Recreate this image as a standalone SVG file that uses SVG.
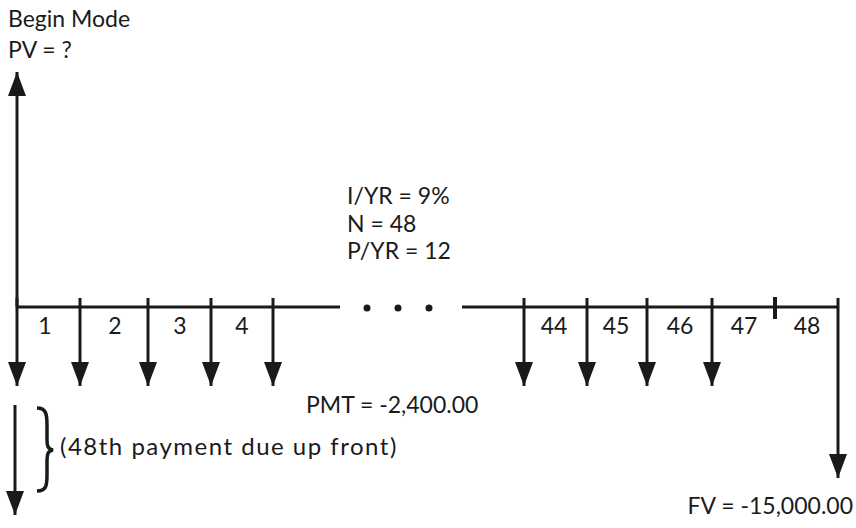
<svg xmlns="http://www.w3.org/2000/svg" width="856" height="528" viewBox="0 0 856 528">
<defs>
<marker id="ah" viewBox="0 0 24 18" refX="24" refY="9" markerWidth="24" markerHeight="18" markerUnits="userSpaceOnUse" orient="auto">
<path d="M0,0 L24,9 L0,18 Z" fill="#1a1a1a"/>
</marker>
</defs>
<style>
.t{font-family:Lato,"Open Sans",sans-serif;font-size:23px;fill:#1a1a1a}
.n{font-family:Lato,"Open Sans",sans-serif;font-size:23px;fill:#1a1a1a}
.b{font-family:Lato,"Open Sans",sans-serif;font-size:24px;fill:#1a1a1a;letter-spacing:1.5px}
.ln{stroke:#1a1a1a;stroke-width:3;fill:none}
.ar{stroke:#1a1a1a;stroke-width:3;fill:none}
</style>
<rect width="856" height="528" fill="#fff"/>
<g id="labels">
<text class="t" x="8" y="27">Begin Mode</text>
<text class="t" x="8" y="58">PV = ?</text>
<text class="t" x="347" y="204">I/YR = 9%</text>
<text class="t" x="347" y="232">N = 48</text>
<text class="t" x="347" y="259">P/YR = 12</text>
<text class="t" x="306" y="413">PMT = -2,400.00</text>
<text class="t" x="853" y="514" text-anchor="end">FV = -15,000.00</text>
<text class="b" x="60" y="455">(48th payment due up front)</text>
</g>
<g id="period-labels">
<text class="n" x="45" y="334" text-anchor="middle">1</text>
<text class="n" x="115" y="334" text-anchor="middle">2</text>
<text class="n" x="180" y="334" text-anchor="middle">3</text>
<text class="n" x="242" y="334" text-anchor="middle">4</text>
<text class="n" x="554" y="334" text-anchor="middle">44</text>
<text class="n" x="616" y="334" text-anchor="middle">45</text>
<text class="n" x="680" y="334" text-anchor="middle">46</text>
<text class="n" x="744" y="334" text-anchor="middle">47</text>
<text class="n" x="807" y="334" text-anchor="middle">48</text>
</g>
<g id="timeline">
<line class="ln" x1="17" y1="307" x2="340" y2="307"/>
<line class="ln" x1="462" y1="307" x2="838" y2="307"/>
<circle cx="367" cy="308" r="3.5" fill="#1a1a1a"/>
<circle cx="398" cy="308" r="3.5" fill="#1a1a1a"/>
<circle cx="429" cy="308" r="3.5" fill="#1a1a1a"/>
<line x1="775" y1="297" x2="775" y2="319" stroke="#1a1a1a" stroke-width="4"/>
</g>
<g id="connectors">
<line class="ar" x1="17" y1="307" x2="17" y2="72" marker-end="url(#ah)"/>
<line class="ar" x1="17" y1="298" x2="17" y2="386" marker-end="url(#ah)"/>
<line class="ar" x1="80" y1="298" x2="80" y2="386" marker-end="url(#ah)"/>
<line class="ar" x1="148" y1="298" x2="148" y2="386" marker-end="url(#ah)"/>
<line class="ar" x1="211" y1="298" x2="211" y2="386" marker-end="url(#ah)"/>
<line class="ar" x1="273" y1="298" x2="273" y2="386" marker-end="url(#ah)"/>
<line class="ar" x1="524" y1="298" x2="524" y2="386" marker-end="url(#ah)"/>
<line class="ar" x1="587" y1="298" x2="587" y2="386" marker-end="url(#ah)"/>
<line class="ar" x1="647" y1="298" x2="647" y2="386" marker-end="url(#ah)"/>
<line class="ar" x1="712" y1="298" x2="712" y2="386" marker-end="url(#ah)"/>
<line class="ar" x1="838" y1="298" x2="838" y2="478" marker-end="url(#ah)"/>
<line class="ar" x1="15" y1="405" x2="15" y2="515" stroke-width="2.5" marker-end="url(#ah)"/>
<path d="M37,408 C46,408 47,414 47,425 L47,440 C47,446 48,449 53,450 C48,451 47,454 47,460 L47,475 C47,486 46,491 37,491" fill="none" stroke="#1a1a1a" stroke-width="3.5"/>
</g>
</svg>
